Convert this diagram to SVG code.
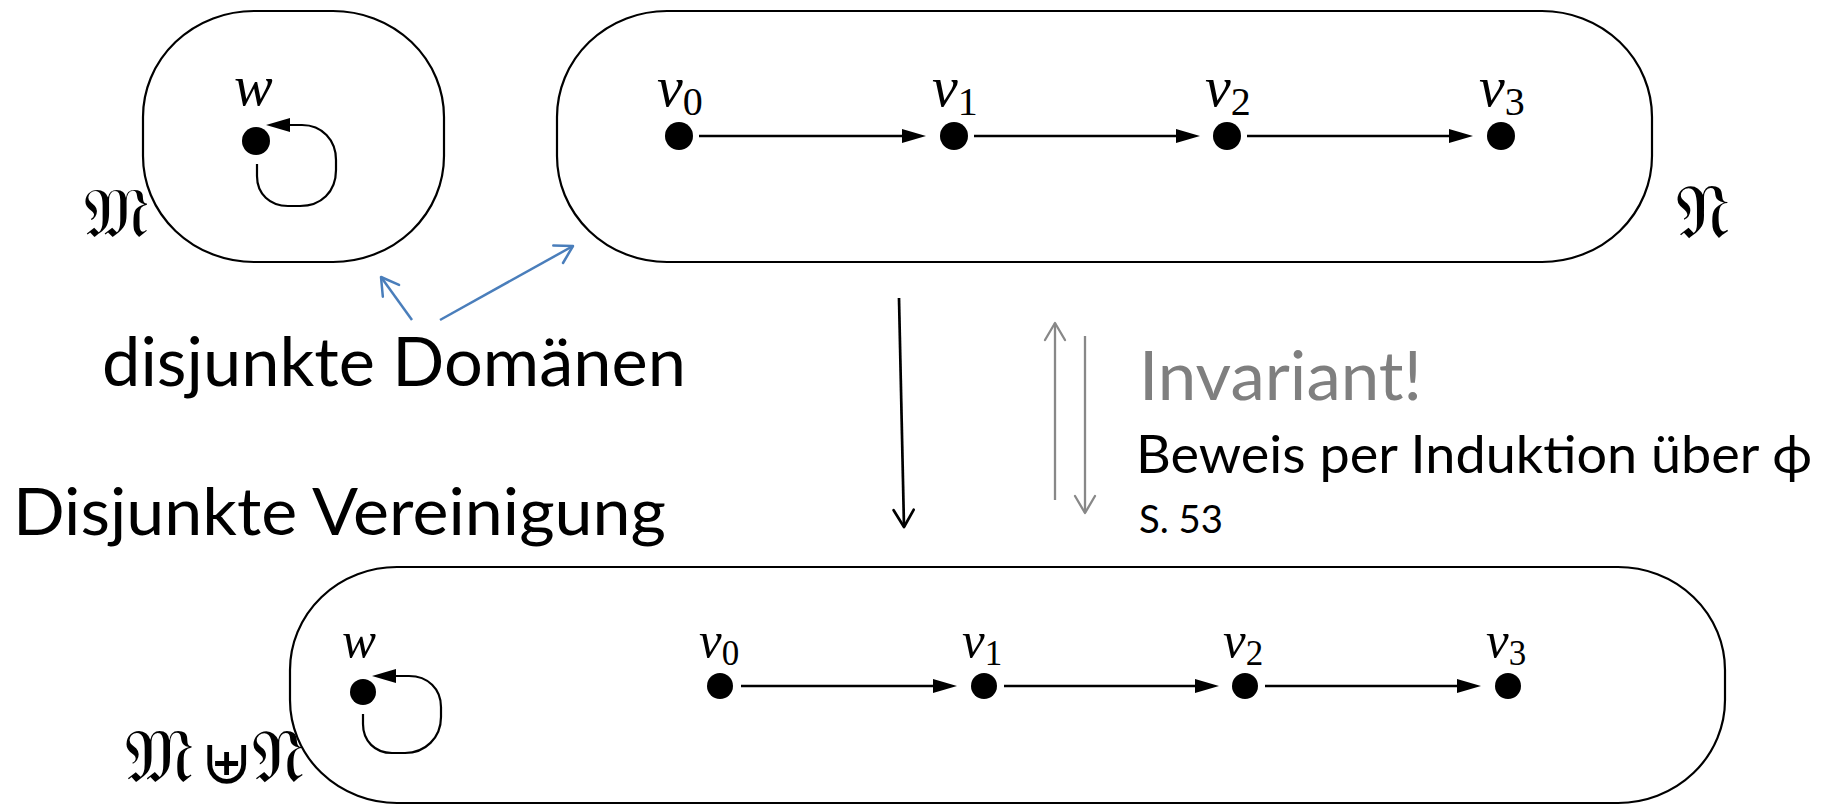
<svg xmlns="http://www.w3.org/2000/svg" width="1825" height="805" viewBox="0 0 1825 805">
  <style>
    .box { fill: none; stroke: #000; stroke-width: 2.2; }
    .dot { fill: #000; }
    .edge { fill: none; stroke: #000; stroke-width: 2.7; }
    .loop { fill: none; stroke: #000; stroke-width: 2.2; }
    .lbl { font-family: "Liberation Serif", "DejaVu Serif", serif; font-style: italic; fill: #000; }
    .sub { font-family: "Liberation Serif", "DejaVu Serif", serif; font-style: normal; }
    .frak { font-family: "DejaVu Serif", "DejaVu Sans", "Noto Sans", serif; fill: #000; }
    .big { font-family: Lato, "Open Sans", "Liberation Sans", sans-serif; fill: #000; }
    .blue { fill: none; stroke: #4a7ebb; stroke-width: 2.5; }
    .gray { fill: none; stroke: #888888; stroke-width: 2.3; }
    .blk { fill: none; stroke: #000; stroke-width: 2.7; }
  </style>
  <defs>
    <marker id="tri" markerUnits="userSpaceOnUse" markerWidth="26" markerHeight="16" refX="0" refY="7" orient="auto" overflow="visible">
      <path d="M0,0 L24,7 L0,14 z" fill="#000"/>
    </marker>
    <marker id="openBlue" markerUnits="userSpaceOnUse" markerWidth="22" markerHeight="24" refX="18" refY="11" orient="auto" overflow="visible">
      <path d="M1,1 L18,11 L1,21" fill="none" stroke="#4a7ebb" stroke-width="2.5" stroke-linecap="round" stroke-linejoin="round"/>
    </marker>
    <marker id="openGray" markerUnits="userSpaceOnUse" markerWidth="22" markerHeight="24" refX="18" refY="11" orient="auto" overflow="visible">
      <path d="M1,1 L18,11 L1,21" fill="none" stroke="#888888" stroke-width="2.3" stroke-linecap="round" stroke-linejoin="round"/>
    </marker>
    <marker id="openBlack" markerUnits="userSpaceOnUse" markerWidth="22" markerHeight="24" refX="18" refY="11" orient="auto" overflow="visible">
      <path d="M1,1 L18,11 L1,21" fill="none" stroke="#000" stroke-width="2.7" stroke-linecap="round" stroke-linejoin="round"/>
    </marker>
  </defs>
  <rect width="1825" height="805" fill="#fff"/>

  <!-- Structure M -->
  <g id="structM">
    <rect class="box" x="143" y="11" width="301" height="251" rx="111" ry="106"/>
    <text class="frak" x="84" y="237" font-size="70">𝔐</text>
  </g>
  <g id="node-w-top">
    <circle class="dot" cx="256" cy="141" r="14"/>
    <text class="lbl" x="234" y="105" font-size="58">w</text>
  </g>

  <!-- Structure N -->
  <g id="structN">
    <rect class="box" x="557" y="11" width="1095" height="251" rx="110" ry="106"/>
    <text class="frak" x="1676" y="238" font-size="76">𝔑</text>
  </g>
  <g id="node-v0-top">
    <circle class="dot" cx="679" cy="136" r="14"/>
    <text class="lbl" x="657" y="106" font-size="58">v<tspan class="sub" font-size="40" dy="9">0</tspan></text>
  </g>
  <g id="node-v1-top">
    <circle class="dot" cx="954" cy="136" r="14"/>
    <text class="lbl" x="932" y="106" font-size="58">v<tspan class="sub" font-size="40" dy="9">1</tspan></text>
  </g>
  <g id="node-v2-top">
    <circle class="dot" cx="1227" cy="136" r="14"/>
    <text class="lbl" x="1205" y="106" font-size="58">v<tspan class="sub" font-size="40" dy="9">2</tspan></text>
  </g>
  <g id="node-v3-top">
    <circle class="dot" cx="1501" cy="136" r="14"/>
    <text class="lbl" x="1479" y="106" font-size="58">v<tspan class="sub" font-size="40" dy="9">3</tspan></text>
  </g>

  <!-- Disjoint union -->
  <g id="structUnion">
    <rect class="box" x="290" y="567" width="1435" height="236" rx="107" ry="103"/>
    <text class="frak" x="125" y="782" font-size="74">𝔐</text>
    <text class="frak" x="201" y="783" font-size="62">⊎</text>
    <text class="frak" x="252" y="782" font-size="74">𝔑</text>
  </g>
  <g id="node-w-bot">
    <circle class="dot" cx="363" cy="692" r="13"/>
    <text class="lbl" x="342" y="657" font-size="51">w</text>
  </g>
  <g id="node-v0-bot">
    <circle class="dot" cx="720" cy="686" r="13"/>
    <text class="lbl" x="699" y="657" font-size="51">v<tspan class="sub" font-size="35" dy="8">0</tspan></text>
  </g>
  <g id="node-v1-bot">
    <circle class="dot" cx="984" cy="686" r="13"/>
    <text class="lbl" x="962" y="657" font-size="51">v<tspan class="sub" font-size="35" dy="8">1</tspan></text>
  </g>
  <g id="node-v2-bot">
    <circle class="dot" cx="1245" cy="686" r="13"/>
    <text class="lbl" x="1223" y="657" font-size="51">v<tspan class="sub" font-size="35" dy="8">2</tspan></text>
  </g>
  <g id="node-v3-bot">
    <circle class="dot" cx="1508" cy="686" r="13"/>
    <text class="lbl" x="1486" y="657" font-size="51">v<tspan class="sub" font-size="35" dy="8">3</tspan></text>
  </g>

  <!-- Text annotations -->
  <g id="label-domains">
    <text class="big" x="102" y="386" font-size="68" textLength="584" lengthAdjust="spacingAndGlyphs">disjunkte Domänen</text>
  </g>
  <g id="label-union">
    <text class="big" x="13" y="535" font-size="66" textLength="653" lengthAdjust="spacingAndGlyphs">Disjunkte Vereinigung</text>
  </g>
  <g id="label-invariant">
    <text class="big" x="1139" y="400" font-size="67" style="fill:#7f7f7f" textLength="283" lengthAdjust="spacingAndGlyphs">Invariant!</text>
    <text class="big" x="1136" y="473" font-size="53" textLength="676" lengthAdjust="spacingAndGlyphs">Beweis per Induktion über ϕ</text>
    <text class="big" x="1139" y="533" font-size="38" textLength="84" lengthAdjust="spacingAndGlyphs">S. 53</text>
  </g>

  <!-- Connectors -->
  <g id="connectors">
    <path class="loop" d="M257,164 V176 C257,194 270,206 288,206 H300 C321,206 336,192 336,170 V160 C336,140 322,125 302,125 H290" marker-end="url(#tri)"/>
    <line class="edge" x1="699" y1="136" x2="902" y2="136" marker-end="url(#tri)"/>
    <line class="edge" x1="974" y1="136" x2="1176" y2="136" marker-end="url(#tri)"/>
    <line class="edge" x1="1247" y1="136" x2="1449" y2="136" marker-end="url(#tri)"/>

    <path class="loop" d="M363,714 V724 C363,741 375,753 392,753 H405 C425,753 441,738 441,717 V707 C441,689 428,676 409,676 H396" marker-end="url(#tri)"/>
    <line class="edge" x1="741" y1="686" x2="933" y2="686" marker-end="url(#tri)"/>
    <line class="edge" x1="1004" y1="686" x2="1195" y2="686" marker-end="url(#tri)"/>
    <line class="edge" x1="1265" y1="686" x2="1457" y2="686" marker-end="url(#tri)"/>

    <line class="blue" x1="412" y1="320" x2="381" y2="277" marker-end="url(#openBlue)"/>
    <line class="blue" x1="440" y1="320" x2="573" y2="246" marker-end="url(#openBlue)"/>

    <line class="blk" x1="899" y1="298" x2="904" y2="527" marker-end="url(#openBlack)"/>
    <line class="gray" x1="1055" y1="500" x2="1055" y2="323" marker-end="url(#openGray)"/>
    <line class="gray" x1="1085" y1="336" x2="1085" y2="513" marker-end="url(#openGray)"/>
  </g>
</svg>
